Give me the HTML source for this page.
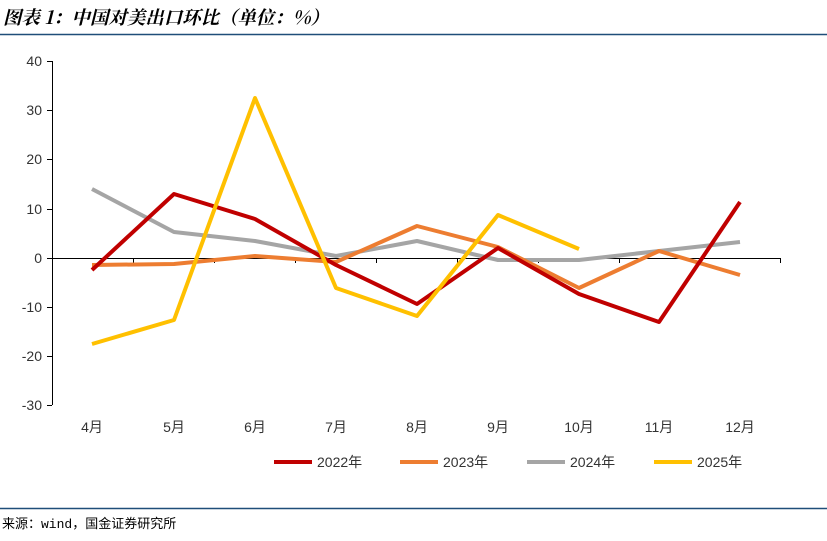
<!DOCTYPE html>
<html><head><meta charset="utf-8"><style>
html,body{margin:0;padding:0;background:#fff;}
svg{display:block;font-family:"Liberation Sans","Noto Sans CJK SC",sans-serif;}
</style></head><body>
<svg width="827" height="541" viewBox="0 0 827 541" xmlns="http://www.w3.org/2000/svg">
<rect width="827" height="541" fill="#fff"/>
<text x="3" y="24" font-size="18.5" font-weight="bold" font-style="italic" fill="#000" font-family="'Noto Serif CJK SC','Noto Sans CJK SC',serif" textLength="326" lengthAdjust="spacingAndGlyphs">图表 1：中国对美出口环比（单位：%）</text>
<line x1="0" y1="34.5" x2="827" y2="34.5" stroke="#1F4E79" stroke-width="1.5"/>
<line x1="0" y1="508.5" x2="827" y2="508.5" stroke="#1F4E79" stroke-width="1.5"/>
<text x="2" y="528" font-size="13" fill="#000" font-family="'Liberation Mono','Noto Sans CJK SC',monospace">来源：wind，国金证券研究所</text>
<g stroke="#000" stroke-width="1">
<line x1="52.5" y1="61" x2="52.5" y2="405"/>
<line x1="47" y1="61.5" x2="52" y2="61.5"/><line x1="47" y1="110.5" x2="52" y2="110.5"/>
<line x1="47" y1="159.5" x2="52" y2="159.5"/><line x1="47" y1="209.5" x2="52" y2="209.5"/>
<line x1="47" y1="258.5" x2="52" y2="258.5"/><line x1="47" y1="307.5" x2="52" y2="307.5"/>
<line x1="47" y1="356.5" x2="52" y2="356.5"/><line x1="47" y1="405.5" x2="52" y2="405.5"/>
<line x1="52" y1="258.5" x2="780" y2="258.5"/>
<line x1="133.5" y1="258" x2="133.5" y2="263"/><line x1="214.5" y1="258" x2="214.5" y2="263"/>
<line x1="295.5" y1="258" x2="295.5" y2="263"/><line x1="376.5" y1="258" x2="376.5" y2="263"/>
<line x1="457.5" y1="258" x2="457.5" y2="263"/><line x1="538.5" y1="258" x2="538.5" y2="263"/>
<line x1="619.5" y1="258" x2="619.5" y2="263"/><line x1="699.5" y1="258" x2="699.5" y2="263"/>
<line x1="780.5" y1="258" x2="780.5" y2="263"/>
</g>
<g font-size="14" fill="#333" text-anchor="end">
<text x="42" y="66">40</text><text x="42" y="115">30</text><text x="42" y="164">20</text>
<text x="42" y="214">10</text><text x="42" y="263">0</text><text x="42" y="312">-10</text>
<text x="42" y="361">-20</text><text x="42" y="410">-30</text>
</g>
<g font-size="14" fill="#333" text-anchor="middle">
<text x="92" y="432">4月</text><text x="174" y="432">5月</text><text x="255" y="432">6月</text>
<text x="336" y="432">7月</text><text x="417" y="432">8月</text><text x="498" y="432">9月</text>
<text x="579" y="432">10月</text><text x="659" y="432">11月</text><text x="740" y="432">12月</text>
</g>
<g fill="none" stroke-width="4" stroke-linejoin="round">
<polyline stroke="#A5A5A5" points="92,189 174,232 255,241 336,256 417,241 498,260 579,260 659,251 740,242"/>
<polyline stroke="#ED7D31" points="92,265 174,264 255,256 336,262 417,226 498,247 579,288 659,251 740,275"/>
<polyline stroke="#C00000" points="92,270 174,194 255,219 336,265 417,304 498,248 579,294 659,322 740,202"/>
<polyline stroke="#FFC000" points="92,344 174,320 255,98 336,288 417,316 498,215 579,249"/>
</g>
<g stroke-width="4">
<line x1="274" y1="462" x2="312" y2="462" stroke="#C00000"/>
<line x1="400" y1="462" x2="438" y2="462" stroke="#ED7D31"/>
<line x1="527" y1="462" x2="565" y2="462" stroke="#A5A5A5"/>
<line x1="654" y1="462" x2="692" y2="462" stroke="#FFC000"/>
</g>
<g font-size="14" fill="#333">
<text x="317" y="467">2022年</text><text x="443" y="467">2023年</text>
<text x="570" y="467">2024年</text><text x="697" y="467">2025年</text>
</g>
</svg>
</body></html>
